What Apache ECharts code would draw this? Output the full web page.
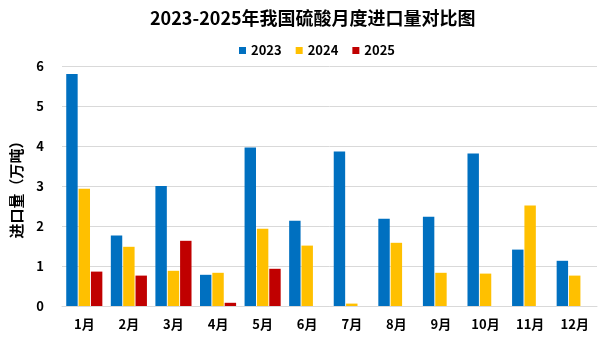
<!DOCTYPE html>
<html><head><meta charset="utf-8">
<script src="https://cdn.jsdelivr.net/npm/echarts@6/dist/echarts.min.js"></script>
<style>html,body{margin:0;padding:0;background:#fff}#c{width:605px;height:340px}</style>
</head><body><div id="c"></div>
<script>
const months = ['1月','2月','3月','4月','5月','6月','7月','8月','9月','10月','11月','12月'];
const s2023 = [5.80,1.76,3.00,0.78,3.96,2.13,3.86,2.18,2.23,3.81,1.41,1.13];
const s2024 = [2.93,1.48,0.88,0.83,1.93,1.51,0.06,1.58,0.83,0.81,2.51,0.76];
const s2025 = [0.86,0.76,1.63,0.08,0.93,null,null,null,null,null,null,null];
const font = '"Noto Sans CJK SC", "Microsoft YaHei", sans-serif';
const chart = echarts.init(document.getElementById('c'));
chart.setOption({
  animation:false,
  title:{text:'2023-2025年我国硫酸月度进口量对比图',left:145,top:4,
    textStyle:{fontFamily:font,fontSize:18,fontWeight:'bold',color:'#000'}},
  legend:{top:39,left:234,itemWidth:7,itemHeight:7,itemGap:14,icon:'rect',
    textStyle:{fontFamily:font,fontSize:13,fontWeight:'bold',color:'#000'}},
  grid:{left:62,right:8,top:66,bottom:34},
  xAxis:{type:'category',data:months,
    axisLine:{lineStyle:{color:'#d9d9d9'}},axisTick:{show:false},
    axisLabel:{fontFamily:font,fontSize:13,fontWeight:'bold',color:'#000',margin:12}},
  yAxis:{type:'value',min:0,max:6,interval:1,name:'进口量（万吨）',nameLocation:'middle',nameGap:38,
    nameTextStyle:{fontFamily:font,fontSize:15,fontWeight:'bold',color:'#000'},
    splitLine:{lineStyle:{color:'#d9d9d9'}},axisLine:{show:false},axisTick:{show:false},
    axisLabel:{fontFamily:font,fontSize:13,fontWeight:'bold',color:'#000',margin:18}},
  series:[
    {name:'2023',type:'bar',data:s2023,itemStyle:{color:'#0070C0'},barGap:'8%',barCategoryGap:'19%'},
    {name:'2024',type:'bar',data:s2024,itemStyle:{color:'#FFC000'}},
    {name:'2025',type:'bar',data:s2025,itemStyle:{color:'#C00000'}}
  ]
});
</script></body></html>
